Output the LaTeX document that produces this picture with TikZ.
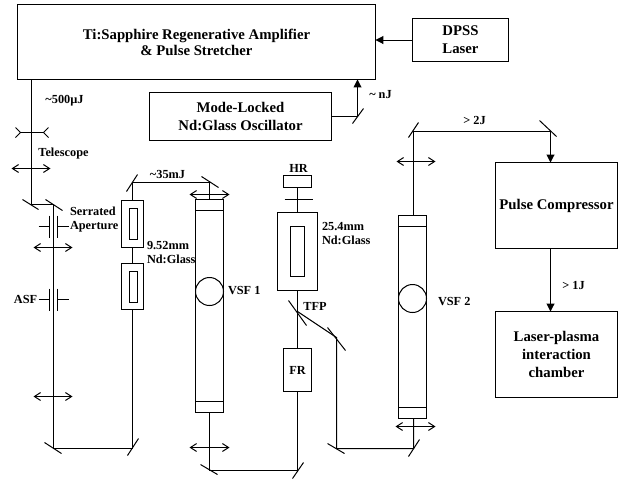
\documentclass[tikz,border=0pt]{standalone}
\usepackage{fontspec}
\setmainfont{Liberation Serif}
\usetikzlibrary{arrows.meta}

\begin{document}
\begin{tikzpicture}[x=0.02cm, y=-0.02cm, line width=0.57pt]
	% Define style for nodes
	\tikzstyle{box}=[rectangle, draw, inner sep=0pt, outer sep=0pt, align=center, font=\fontsize{8.4}{10.2}\selectfont\bfseries]
	\tikzstyle{txt}=[inner sep=0pt, align=center, font=\fontsize{7}{8}\selectfont\bfseries]
	\tikzstyle{lens}=[{Straight Barb[length=3.5pt,width=4.5pt]}-{Straight Barb[length=3.5pt,width=4.5pt]}]
	\tikzstyle{beam}=[-{Triangle[length=4.5pt,width=4.5pt]}]
	
	\useasboundingbox (-0.5,-0.5) rectangle (620.5,480.5);
	
	% Boxes on top and on the right
	\node[box, minimum width=7.16cm, minimum height=1.5cm] (amp) at (196,41.5) {Ti:Sapphire Regenerative Amplifier\\[-1.2pt]\& Pulse Stretcher};
	\node[box, minimum width=1.92cm, minimum height=0.86cm] (dpss) at (460,39.5) {DPSS\\Laser};
	\node[box, minimum width=3.64cm, minimum height=0.96cm] (osc) at (240,116) {Mode-Locked\\Nd:Glass Oscillator};
	\node[box, minimum width=2.44cm, minimum height=1.72cm] (comp) at (556,205) {Pulse Compressor};
	\node[box, minimum width=2.44cm, minimum height=1.72cm] (plasma) at (556,354) {Laser-plasma\\interaction\\chamber};
	
	% Amplifier rods
	\node[box, minimum width=0.44cm, minimum height=0.94cm] (rod1) at (132,223.5) {};
	\node[box, minimum width=0.16cm, minimum height=0.62cm] (rod1i) at (133,223.5) {};
	\node[box, minimum width=0.44cm, minimum height=0.92cm] (rod2) at (132,286) {};
	\node[box, minimum width=0.16cm, minimum height=0.62cm] (rod2i) at (133,286.5) {};
	\node[box, minimum width=0.8cm, minimum height=1.56cm] (rod3) at (297,251) {};
	\node[box, minimum width=0.28cm, minimum height=1cm] (rod3i) at (297,251) {};
	\node[box, minimum width=0.56cm, minimum height=0.86cm] (fr) at (297,369.5) {\fontsize{7}{8}\selectfont FR};
	\node[box, minimum width=0.56cm, minimum height=0.24cm] (hr) at (297,181) {};
	
	% Spatial filters
	\node[box, minimum width=0.56cm, minimum height=4.26cm] (vsfa) at (209,305.5) {};
	\node[box, circle, minimum width=0.56cm] (vsfac) at (209,291) {};
	\node[box, minimum width=0.56cm, minimum height=4.06cm] (vsfb) at (412,316.5) {};
	\node[box, circle, minimum width=0.56cm] (vsfbc) at (412,298) {};
	\draw (195,210) -- (223,210);
	\draw (195,401) -- (223,401);
	\draw (398,226) -- (426,226);
	\draw (398,407) -- (426,407);
	
	% Mirrors
	\coordinate (m1) at (31,204);
	\coordinate (m2) at (53,204);
	\coordinate (m3) at (53,448);
	\coordinate (m4) at (132,448);
	\coordinate (m5) at (132,182);
	\coordinate (m6) at (209,182);
	\coordinate (m7) at (209,470);
	\coordinate (m8) at (297,470);
	\coordinate (m9) at (297,311);
	\coordinate (m10) at (336,337);
	\coordinate (m11) at (336,448);
	\coordinate (m12) at (413,448);
	\coordinate (m13) at (413,131);
	\coordinate (m14) at (550,131);
	\coordinate (m15) at (357,116);
	
	\draw (22,199) -- (38,209);
	\draw (45,199) -- (62,210);
	\draw (44,442) -- (61,453);
	\draw (127,455) -- (138,438);
	\draw (126,191) -- (137,174);
	\draw (201,176) -- (218,187);
	\draw (200,464) -- (217,474);
	\draw (292,478) -- (303,462);
	\draw (288,300) -- (306,325);
	\draw (327,327) -- (345,350);
	\draw (327,443) -- (344,453);
	\draw (408,456) -- (419,439);
	\draw (408,137) -- (418,122);
	\draw (539,120) -- (556,136);
	\draw (352,123) -- (363,108);
	
	% Beam path
	\draw[beam] (dpss.west) -- (amp.east |- dpss.west);
	\draw (osc.east |- m15) -- (m15);
	\draw[beam] (m15) -- (m15 |- amp.south);
	\draw (amp.south -| m1) -- (m1) -- (m2) -- (m3) -- (m4) -- (rod2.south);
	\draw (rod2.north) -- (rod1.south);
	\draw (rod1.north) -- (m5) -- (m6) -- (vsfa.north);
	\draw (vsfa.south) -- (m7) -- (m8) -- (fr.south);
	\draw (fr.north) -- (m9) -- (rod3.south);
	\draw (rod3.north) -- (hr.south);
	\draw (m9) -- (m10) -- (m11) -- (m12) -- (m12 |- vsfb.south);
	\draw (m12 |- vsfb.north) -- (m13) -- (m14);
	\draw[beam] (m14) -- (m14 |- comp.north);
	\draw[beam] (comp.south -| m14) -- (m14 |- plasma.north);
	
	% Telescope
	\draw (20,132) -- (43,132);
	\draw (15,127) -- (20,132) -- (15,137);
	\draw (48,127) -- (43,132) -- (48,137);
	
	% Lenses
	\draw[lens] (11,168) -- (50,168);
	\draw[lens] (33,247) -- (72,247);
	\draw[lens] (33,396) -- (72,396);
	\draw[lens] (189,194) -- (229,194);
	\draw[lens] (189,447) -- (229,447);
	\draw[lens] (396,161) -- (435,161);
	\draw[lens] (395,426) -- (435,426);
	
	% Apertures
	\draw (49,215) -- (49,237);
	\draw (57,215) -- (57,237);
	\draw (38,226) -- (49,226);
	\draw (57,226) -- (68,226);
	\draw (49,288) -- (49,310);
	\draw (57,288) -- (57,310);
	\draw (38,299) -- (49,299);
	\draw (57,299) -- (68,299);
	\draw (284,199) -- (312,199);
	
	% Labels
	\node[txt] (l500) at (64,100) {\textasciitilde500µJ};
	\node[txt] (ltel) at (63,153) {Telescope};
	\node[txt, align=left, anchor=west] (lser) at (69,219) {Serrated\\Aperture};
	\node[txt] (lasf) at (25,299) {ASF};
	\node[txt] (l35) at (167,174) {\textasciitilde35mJ};
	\node[txt, align=left, anchor=west] (l952) at (146,252) {9.52mm\\Nd:Glass};
	\node[txt, anchor=west] (lvsfa) at (227,290) {VSF 1};
	\node[txt] (lhr) at (298,168) {HR};
	\node[txt, align=left, anchor=west] (l254) at (321,233) {25.4mm\\Nd:Glass};
	\node[txt] (ltfp) at (314.5,306) {TFP};
	\node[txt, anchor=west] (lvsfb) at (437,301) {VSF 2};
	\node[txt] (lnj) at (380,94) {\textasciitilde{} nJ};
	\node[txt] (l2j) at (474,120) {> 2J};
	\node[txt] (l1j) at (573,285) {> 1J};
\end{tikzpicture}
\end{document}
